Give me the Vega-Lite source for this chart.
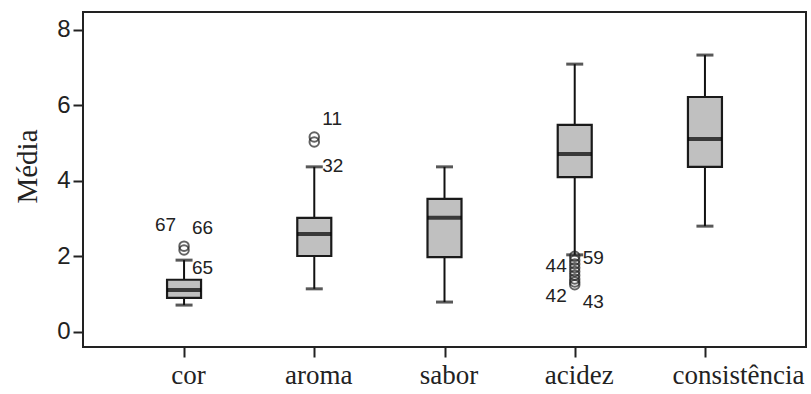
{
  "$schema": "https://vega.github.io/schema/vega-lite/v6.json",
  "autosize": "none",
  "padding": {"left": 83, "top": 12, "right": 5, "bottom": 47},
  "width": 723,
  "height": 335,
  "background": "white",
  "config": {
    "view": {"stroke": "#222", "strokeWidth": 2},
    "axis": {"grid": false, "domain": false, "tickColor": "#222", "tickWidth": 2, "tickSize": 10, "labelColor": "#222", "titleColor": "#222"}
  },
  "datasets": {
    "boxes": [
      {"cat": "cor", "lo": 0.71, "q1": 0.90, "med": 1.11, "q3": 1.38, "hi": 1.90},
      {"cat": "aroma", "lo": 1.14, "q1": 2.01, "med": 2.59, "q3": 3.02, "hi": 4.37},
      {"cat": "sabor", "lo": 0.79, "q1": 1.98, "med": 3.02, "q3": 3.52, "hi": 4.37},
      {"cat": "acidez", "lo": 2.04, "q1": 4.10, "med": 4.71, "q3": 5.48, "hi": 7.09},
      {"cat": "consistência", "lo": 2.80, "q1": 4.37, "med": 5.11, "q3": 6.22, "hi": 7.33}
    ],
    "outliers": [
      {"cat": "cor", "v": 2.17},
      {"cat": "cor", "v": 2.27},
      {"cat": "aroma", "v": 5.03},
      {"cat": "aroma", "v": 5.16},
      {"cat": "acidez", "v": 2.0},
      {"cat": "acidez", "v": 1.9},
      {"cat": "acidez", "v": 1.8},
      {"cat": "acidez", "v": 1.7},
      {"cat": "acidez", "v": 1.6},
      {"cat": "acidez", "v": 1.5},
      {"cat": "acidez", "v": 1.4},
      {"cat": "acidez", "v": 1.32},
      {"cat": "acidez", "v": 1.25}
    ],
    "labels": [
      {"cat": "cor", "v": 2.83, "id": "67"},
      {"cat": "cor", "v": 2.75, "id": "66"},
      {"cat": "cor", "v": 1.69, "id": "65"},
      {"cat": "aroma", "v": 5.63, "id": "11"},
      {"cat": "aroma", "v": 4.39, "id": "32"},
      {"cat": "acidez", "v": 1.75, "id": "44"},
      {"cat": "acidez", "v": 1.96, "id": "59"},
      {"cat": "acidez", "v": 0.95, "id": "42"},
      {"cat": "acidez", "v": 0.79, "id": "43"}
    ]
  },
  "encoding": {
    "x": {
      "field": "cat", "type": "nominal", "sort": ["cor", "aroma", "sabor", "acidez", "consistência"],
      "scale": {"type": "point", "padding": 0.776},
      "axis": {"title": null, "labelAngle": 0, "labelFont": "Liberation Serif", "labelFontSize": 27, "labelPadding": 5,
        "labelOffset": {"condition": {"test": "datum.value === 'consistência'", "value": 33}, "value": 4}}
    }
  },
  "layer": [
    {
      "data": {"name": "boxes"},
      "mark": {"type": "rule", "color": "#111", "strokeWidth": 2},
      "encoding": {
        "y": {"field": "lo", "type": "quantitative", "scale": {"domain": [-0.4, 8.47], "nice": false, "zero": false},
          "axis": {"values": [0, 2, 4, 6, 8], "title": "Média", "labelFont": "Liberation Sans", "labelFontSize": 24, "labelPadding": 3, "titleFont": "Liberation Serif", "titleFontSize": 29, "titleFontWeight": "normal", "titlePadding": 14, "titleY": 154}},
        "y2": {"field": "hi"}
      }
    },
    {
      "data": {"name": "boxes"},
      "mark": {"type": "tick", "color": "#111", "size": 17, "thickness": 3},
      "encoding": {"y": {"field": "lo", "type": "quantitative"}}
    },
    {
      "data": {"name": "boxes"},
      "mark": {"type": "tick", "color": "#111", "size": 17, "thickness": 3},
      "encoding": {"y": {"field": "hi", "type": "quantitative"}}
    },
    {
      "data": {"name": "boxes"},
      "mark": {"type": "bar", "size": 34, "fill": "#c0c0c0", "stroke": "#1a1a1a", "strokeWidth": 2.2},
      "encoding": {"y": {"field": "q1", "type": "quantitative"}, "y2": {"field": "q3"}}
    },
    {
      "data": {"name": "boxes"},
      "mark": {"type": "tick", "color": "#000", "size": 34, "thickness": 4},
      "encoding": {"y": {"field": "med", "type": "quantitative"}}
    },
    {
      "data": {"name": "outliers"},
      "mark": {"type": "point", "shape": "circle", "filled": false, "size": 90, "stroke": "#222", "strokeWidth": 2},
      "encoding": {"y": {"field": "v", "type": "quantitative"}}
    },
    {
      "data": {"name": "labels"},
      "transform": [{"filter": {"field": "id", "oneOf": ["67", "44", "42"]}}],
      "mark": {"type": "text", "align": "right", "baseline": "middle", "dx": -8, "font": "Liberation Sans", "fontSize": 19, "color": "#222"},
      "encoding": {"y": {"field": "v", "type": "quantitative"}, "text": {"field": "id"}}
    },
    {
      "data": {"name": "labels"},
      "transform": [{"filter": {"field": "id", "oneOf": ["66", "65", "11", "32", "59", "43"]}}],
      "mark": {"type": "text", "align": "left", "baseline": "middle", "dx": 8, "font": "Liberation Sans", "fontSize": 19, "color": "#222"},
      "encoding": {"y": {"field": "v", "type": "quantitative"}, "text": {"field": "id"}}
    }
  ]
}
